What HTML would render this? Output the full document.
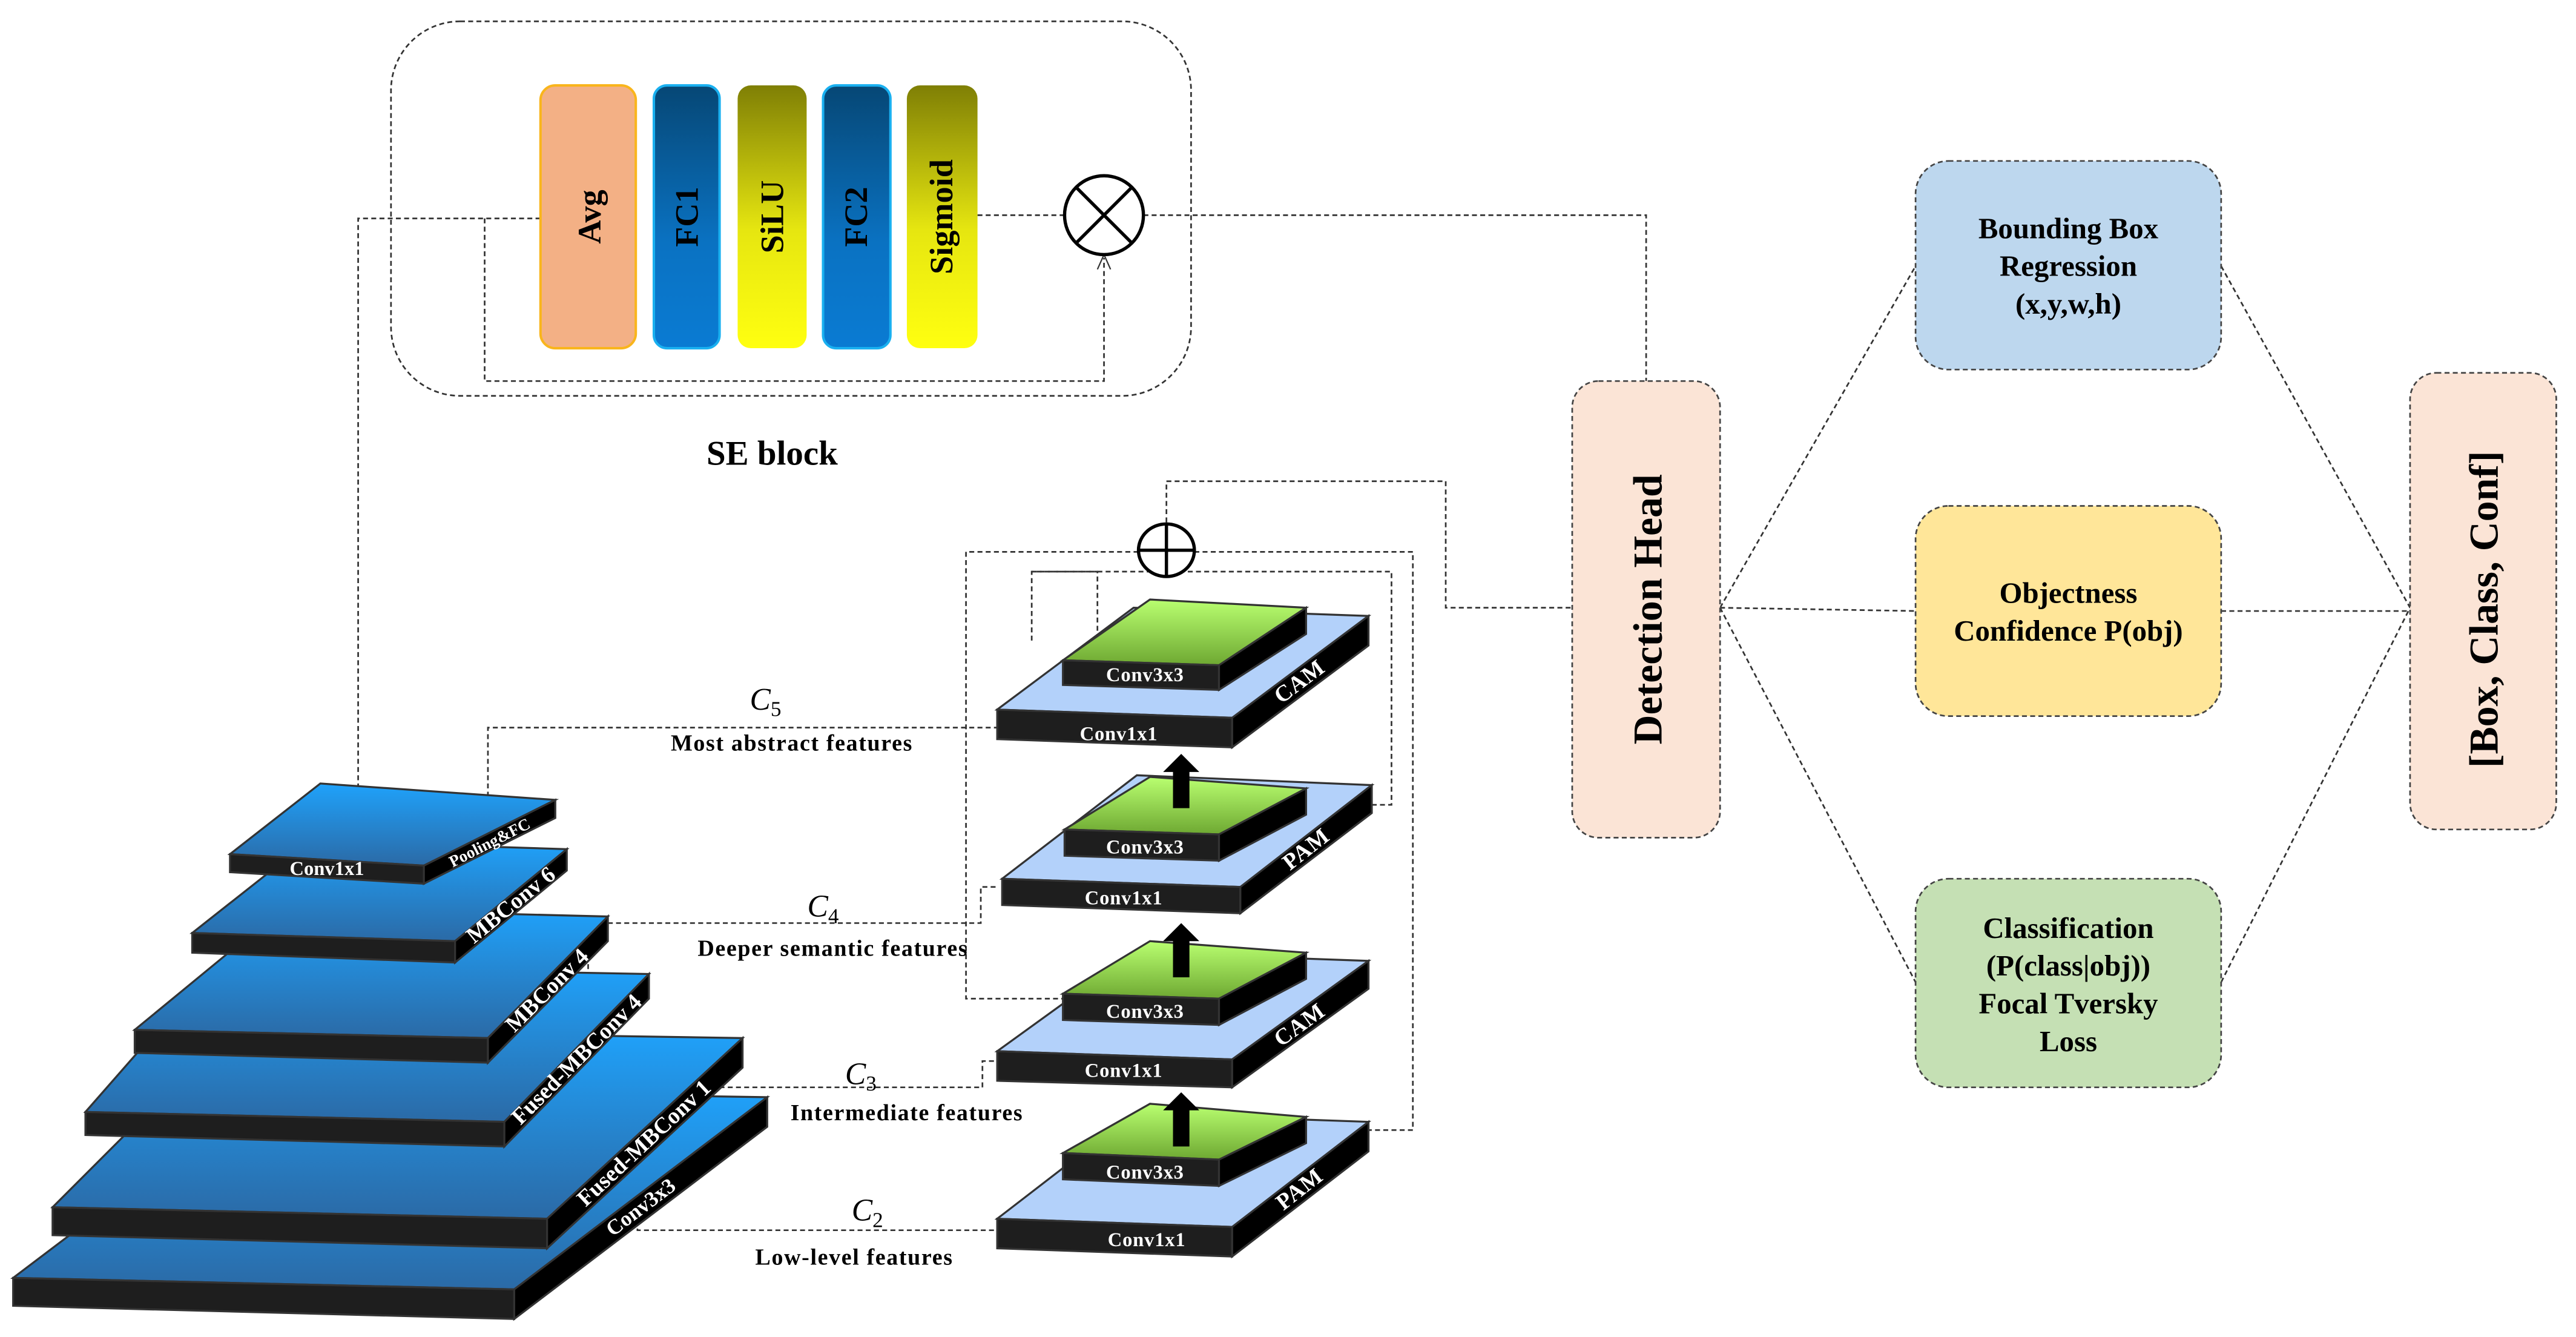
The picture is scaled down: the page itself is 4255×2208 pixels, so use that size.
<!DOCTYPE html>
<html><head><meta charset="utf-8"><style>
html,body{margin:0;padding:0;background:#fff}
svg{display:block}
svg text{font-family:"Liberation Serif","DejaVu Serif","Times New Roman",serif}
</style></head><body>
<svg width="4255" height="2208" viewBox="0 0 1568 814" preserveAspectRatio="none" xmlns="http://www.w3.org/2000/svg" font-weight="bold">
<defs>
<linearGradient id="bl" x1="0" y1="0" x2="0" y2="1"><stop offset="0" stop-color="#1fa2fb"/><stop offset="1" stop-color="#2b6aa6"/></linearGradient>
<linearGradient id="gr" x1="0" y1="0" x2="0" y2="1"><stop offset="0" stop-color="#b9ff70"/><stop offset="1" stop-color="#6ea832"/></linearGradient>
<linearGradient id="fc" x1="0" y1="0" x2="0" y2="1"><stop offset="0" stop-color="#064775"/><stop offset="0.6" stop-color="#0a72c2"/><stop offset="1" stop-color="#0a7bd3"/></linearGradient>
<linearGradient id="yl" x1="0" y1="0" x2="0" y2="1"><stop offset="0" stop-color="#7f7f05"/><stop offset="0.55" stop-color="#e6e610"/><stop offset="1" stop-color="#ffff10"/></linearGradient>
</defs>
<g fill="none" stroke="#333" stroke-width="1" stroke-dasharray="3,2">
<rect x="238" y="13" width="487" height="228" rx="42"/>
<path d="M218,490 V133 H329"/>
<path d="M295,133 V232 H672 V157"/>
<path d="M595,131 H648"/>
<path d="M696,131 H1002 V232"/>
<path d="M710,318 V293 H880 V370 H957"/>
<path d="M693,336 H588 V608 H700"/>
<path d="M727,336 H860 V688 H797"/>
<path d="M628,390 V348 H668 V392"/>
<path d="M628,348 H847 V490 H800"/>
<path d="M297,530 V443 H608"/>
<path d="M358,610 V562 H597 V540 H607"/>
<path d="M360,635 V662 H598 V646 H607"/>
<path d="M388,718 V749 H607"/>
<path d="M1047,370 L1166,162 M1047,370 L1166,372 M1047,370 L1166,598"/>
<path d="M1352,162 L1467,370 M1352,372 L1467,372 M1352,598 L1467,370"/>
</g>
<path d="M668,164 L672,155 L676,164" fill="none" stroke="#333" stroke-width="0.8"/>
<rect x="329" y="52" width="58" height="160" rx="9" fill="#f3b085" stroke="#f9b51c" stroke-width="1.5"/>
<rect x="398" y="52" width="40" height="160" rx="8" fill="url(#fc)" stroke="#1ab0f0" stroke-width="1.5"/>
<rect x="449" y="52" width="42" height="160" rx="8" fill="url(#yl)"/>
<rect x="501" y="52" width="41" height="160" rx="8" fill="url(#fc)" stroke="#1ab0f0" stroke-width="1.5"/>
<rect x="552" y="52" width="43" height="160" rx="8" fill="url(#yl)"/>
<g font-size="20" text-anchor="middle" dominant-baseline="central">
<text transform="translate(359,132) rotate(-90)">Avg</text>
<text transform="translate(418,132) rotate(-90)">FC1</text>
<text transform="translate(470,132) rotate(-90)">SiLU</text>
<text transform="translate(521,132) rotate(-90)">FC2</text>
<text transform="translate(573,132) rotate(-90)">Sigmoid</text>
</g>
<circle cx="672" cy="131" r="24" fill="#fff" stroke="#000" stroke-width="2"/>
<path d="M655,114 L689,148 M689,114 L655,148" stroke="#000" stroke-width="2"/>
<text x="470" y="283" font-size="21" text-anchor="middle">SE block</text>

<g stroke="#333" stroke-width="1.2">
<polygon points="8,778 313,785 467,668 160,663" fill="url(#bl)"/>
<polygon points="8,778 313,785 313,803 8,795" fill="#1e1e1e"/>
<polygon points="313,785 467,668 467,686 313,803" fill="#000"/>
<polygon points="32,735 333,742 452,632 140,627" fill="url(#bl)"/>
<polygon points="32,735 333,742 333,760 32,752" fill="#1e1e1e"/>
<polygon points="333,742 452,632 452,650 333,760" fill="#000"/>
<polygon points="52,677 307,683 395,593 130,588" fill="url(#bl)"/>
<polygon points="52,677 307,683 307,698 52,691" fill="#1e1e1e"/>
<polygon points="307,683 395,593 395,608 307,698" fill="#000"/>
<polygon points="82,627 297,632 370,558 172,553" fill="url(#bl)"/>
<polygon points="82,627 297,632 297,647 82,641" fill="#1e1e1e"/>
<polygon points="297,632 370,558 370,573 297,647" fill="#000"/>
<polygon points="117,568 277,573 345,517 188,512" fill="url(#bl)"/>
<polygon points="117,568 277,573 277,586 117,580" fill="#1e1e1e"/>
<polygon points="277,573 345,517 345,530 277,586" fill="#000"/>
<polygon points="140,520 258,527 338,487 195,477" fill="url(#bl)"/>
<polygon points="140,520 258,527 258,538 140,531" fill="#1e1e1e"/>
<polygon points="258,527 338,487 338,498 258,538" fill="#000"/>
</g>
<g fill="#fff" text-anchor="middle" dominant-baseline="central">
<text x="199" y="529" font-size="12">Conv1x1</text>
<text transform="translate(298,513) rotate(-27)" font-size="10">Pooling&amp;FC</text>
<text transform="translate(311,551) rotate(-39)" font-size="14">MBConv 6</text>
<text transform="translate(333,603) rotate(-45)" font-size="14">MBConv 4</text>
<text transform="translate(351,645) rotate(-45)" font-size="14">Fused-MBConv 4</text>
<text transform="translate(392,696) rotate(-43)" font-size="14">Fused-MBConv 1</text>
<text transform="translate(390,735) rotate(-37)" font-size="13">Conv3x3</text>
</g>

<g stroke="#333" stroke-width="1.2">
<polygon points="607,742 750,747 833,683 690,678" fill="#b3d1fa"/>
<polygon points="607,742 750,747 750,765 607,760" fill="#1e1e1e"/>
<polygon points="750,747 833,683 833,701 750,765" fill="#000"/>
<polygon points="647,702 742,706 795,680 700,672" fill="url(#gr)"/>
<polygon points="647,702 742,706 742,722 647,718" fill="#1e1e1e"/>
<polygon points="742,706 795,680 795,696 742,722" fill="#000"/>
<polygon points="607,640 750,645 833,585 690,580" fill="#b3d1fa"/>
<polygon points="607,640 750,645 750,662 607,658" fill="#1e1e1e"/>
<polygon points="750,645 833,585 833,602 750,662" fill="#000"/>
<polygon points="647,605 742,608 795,580 700,573" fill="url(#gr)"/>
<polygon points="647,605 742,608 742,624 647,621" fill="#1e1e1e"/>
<polygon points="742,608 795,580 795,596 742,624" fill="#000"/>
<polygon points="610,535 755,540 835,478 692,472" fill="#b3d1fa"/>
<polygon points="610,535 755,540 755,556 610,551" fill="#1e1e1e"/>
<polygon points="755,540 835,478 835,495 755,556" fill="#000"/>
<polygon points="648,505 742,508 795,480 700,473" fill="url(#gr)"/>
<polygon points="648,505 742,508 742,524 648,521" fill="#1e1e1e"/>
<polygon points="742,508 795,480 795,496 742,524" fill="#000"/>
<polygon points="607,432 750,437 833,375 690,370" fill="#b3d1fa"/>
<polygon points="607,432 750,437 750,455 607,450" fill="#1e1e1e"/>
<polygon points="750,437 833,375 833,393 750,455" fill="#000"/>
<polygon points="647,402 742,405 795,370 700,365" fill="url(#gr)"/>
<polygon points="647,402 742,405 742,420 647,417" fill="#1e1e1e"/>
<polygon points="742,405 795,370 795,386 742,420" fill="#000"/>
</g>
<g fill="#000">
<polygon points="714,492 724,492 724,470 730,470 719,459 708,470 714,470"/>
<polygon points="714,595 724,595 724,573 730,573 719,562 708,573 714,573"/>
<polygon points="714,698 724,698 724,676 730,676 719,665 708,676 714,676"/>
</g>
<g fill="#fff" font-size="12" text-anchor="middle" dominant-baseline="central" letter-spacing="0.3">
<text x="697" y="411">Conv3x3</text><text x="681" y="447">Conv1x1</text>
<text transform="translate(791,415) rotate(-37)" font-size="14">CAM</text>
<text x="697" y="516">Conv3x3</text><text x="684" y="547">Conv1x1</text>
<text transform="translate(795,517) rotate(-38)" font-size="14">PAM</text>
<text x="697" y="616">Conv3x3</text><text x="684" y="652">Conv1x1</text>
<text transform="translate(791,624) rotate(-36)" font-size="14">CAM</text>
<text x="697" y="714">Conv3x3</text><text x="698" y="755">Conv1x1</text>
<text transform="translate(791,724) rotate(-38)" font-size="14">PAM</text>
</g>
<ellipse cx="710" cy="335" rx="17" ry="16" fill="#fff" stroke="#000" stroke-width="2"/>
<path d="M710,319 V351 M693,335 H727" stroke="#000" stroke-width="2"/>

<g font-size="14" text-anchor="middle" letter-spacing="0.6">
<text x="482" y="457">Most abstract features</text>
<text x="507" y="582">Deeper semantic features</text>
<text x="552" y="682">Intermediate features</text>
<text x="520" y="770">Low-level features</text>
</g>
<g font-size="19" font-style="italic" font-weight="normal" text-anchor="middle">
<text x="466" y="432">C<tspan font-size="13" dy="4" font-style="normal">5</tspan></text>
<text x="501" y="558">C<tspan font-size="13" dy="4" font-style="normal">4</tspan></text>
<text x="524" y="660">C<tspan font-size="13" dy="4" font-style="normal">3</tspan></text>
<text x="528" y="743">C<tspan font-size="13" dy="4" font-style="normal">2</tspan></text>
</g>

<g stroke="#444" stroke-width="1" stroke-dasharray="3,2">
<rect x="957" y="232" width="90" height="278" rx="16" fill="#fbe4d6"/>
<rect x="1166" y="98" width="186" height="127" rx="20" fill="#bdd7ee"/>
<rect x="1166" y="308" width="186" height="128" rx="20" fill="#ffe699"/>
<rect x="1166" y="535" width="186" height="127" rx="20" fill="#c5e0b4"/>
<rect x="1467" y="227" width="89" height="278" rx="16" fill="#fbe4d6"/>
</g>
<text transform="translate(1003,371) rotate(-90)" font-size="25" text-anchor="middle" dominant-baseline="central">Detection Head</text>
<text transform="translate(1512,371) rotate(-90)" font-size="25" text-anchor="middle" dominant-baseline="central">[Box, Class, Conf]</text>
<g font-size="18" text-anchor="middle">
<text x="1259" y="145">Bounding Box</text>
<text x="1259" y="168">Regression</text>
<text x="1259" y="191">(x,y,w,h)</text>
<text x="1259" y="367">Objectness</text>
<text x="1259" y="390">Confidence P(obj)</text>
<text x="1259" y="571">Classification</text>
<text x="1259" y="594">(P(class|obj))</text>
<text x="1259" y="617">Focal Tversky</text>
<text x="1259" y="640">Loss</text>
</g>
</svg>
</body></html>
